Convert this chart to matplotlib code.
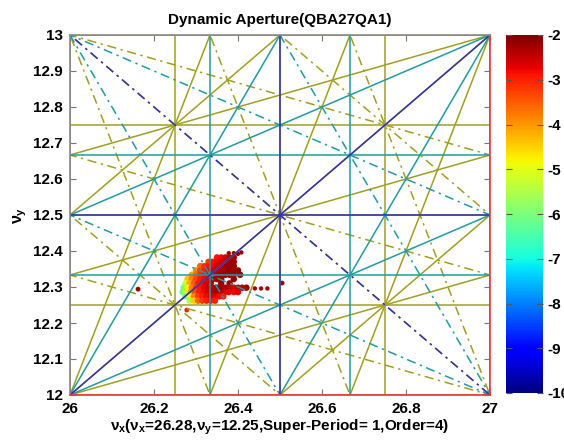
import matplotlib
matplotlib.use("Agg")
import matplotlib.pyplot as plt
import numpy as np

plt.rcParams['font.family'] = ['Liberation Sans', 'DejaVu Sans']
plt.rcParams['font.weight'] = 'bold'
plt.rcParams['mathtext.fontset'] = 'custom'
plt.rcParams['mathtext.rm'] = 'Liberation Sans:bold'
plt.rcParams['mathtext.it'] = 'Liberation Sans:bold'
plt.rcParams['mathtext.bf'] = 'Liberation Sans:bold'

# ---- resonance lines  m*nux + n*nuy = p ----
order1_lines = [(1, 0, 26), (1, 0, 27), (0, 1, 12), (0, 1, 13)]
order2_lines = [(2, 0, 53), (0, 2, 25), (1, 1, 39), (1, -1, 14)]
order3_lines = [(3, 0, 79), (3, 0, 80), (0, 3, 37), (0, 3, 38),
                (2, 1, 65), (2, 1, 66), (2, -1, 40), (2, -1, 41),
                (1, 2, 51), (1, 2, 52), (1, -2, 1), (1, -2, 2)]
order4_lines = [(4, 0, 105), (4, 0, 106), (4, 0, 107),
                (0, 4, 49), (0, 4, 50), (0, 4, 51),
                (3, 1, 91), (3, 1, 92), (3, 1, 93),
                (3, -1, 66), (3, -1, 67), (3, -1, 68),
                (1, 3, 63), (1, 3, 64), (1, 3, 65),
                (1, -3, -12), (1, -3, -11), (1, -3, -10),
                (2, 2, 77), (2, 2, 78), (2, 2, 79),
                (2, -2, 27), (2, -2, 28), (2, -2, 29)]

# ---- tracked particles (tune footprint) ----
blob_x = [26.378, 26.390, 26.400, 26.408,
          26.350, 26.360, 26.370, 26.380, 26.390,
          26.330, 26.340, 26.350, 26.360, 26.370, 26.380, 26.390,
          26.310, 26.320, 26.330, 26.340, 26.350, 26.360, 26.370, 26.380, 26.390,
          26.300, 26.310, 26.320, 26.330, 26.340, 26.350, 26.360, 26.370, 26.380, 26.390, 26.400,
          26.290, 26.300, 26.310, 26.320, 26.330, 26.340, 26.350, 26.360, 26.370, 26.380, 26.390, 26.405,
          26.280, 26.290, 26.300, 26.310, 26.320, 26.330, 26.340, 26.350, 26.360, 26.390,
          26.275, 26.285, 26.295, 26.305, 26.315, 26.325, 26.335, 26.360, 26.380,
          26.270, 26.280, 26.290, 26.300, 26.310, 26.320, 26.330, 26.340, 26.350, 26.360, 26.370, 26.380, 26.390, 26.400, 26.410, 26.420,
          26.440, 26.455, 26.470,
          26.268, 26.278, 26.288, 26.298, 26.308, 26.318, 26.328, 26.338, 26.348, 26.358, 26.368, 26.378, 26.390, 26.400,
          26.275, 26.285, 26.295, 26.305, 26.315, 26.325, 26.335, 26.345, 26.355, 26.365,
          26.285, 26.295, 26.305, 26.315, 26.325, 26.335, 26.345,
          26.162, 26.278, 26.505]
blob_y = [12.394, 12.394, 12.392, 12.396,
          12.382, 12.382, 12.382, 12.382, 12.382,
          12.370, 12.370, 12.370, 12.370, 12.370, 12.370, 12.370,
          12.358, 12.358, 12.358, 12.358, 12.358, 12.358, 12.358, 12.358, 12.358,
          12.346, 12.346, 12.346, 12.346, 12.346, 12.346, 12.346, 12.346, 12.346, 12.346, 12.346,
          12.334, 12.334, 12.334, 12.334, 12.334, 12.334, 12.334, 12.334, 12.334, 12.334, 12.334, 12.334,
          12.322, 12.322, 12.322, 12.322, 12.322, 12.322, 12.322, 12.322, 12.322, 12.322,
          12.310, 12.310, 12.310, 12.310, 12.310, 12.310, 12.310, 12.310, 12.310,
          12.298, 12.298, 12.298, 12.298, 12.298, 12.298, 12.298, 12.298, 12.298, 12.298, 12.298, 12.298, 12.298, 12.298, 12.298, 12.298,
          12.296, 12.296, 12.296,
          12.286, 12.286, 12.286, 12.286, 12.286, 12.286, 12.286, 12.286, 12.286, 12.286, 12.286, 12.286, 12.286, 12.286,
          12.274, 12.274, 12.274, 12.274, 12.274, 12.274, 12.274, 12.274, 12.274, 12.274,
          12.262, 12.262, 12.262, 12.262, 12.262, 12.262, 12.262,
          12.294, 12.236, 12.311]
blob_c = [-2.2, -2.2, -2.2, -2.2,
          -2.9, -2.8, -2.6, -2.4, -2.3,
          -3.2, -2.9, -2.8, -2.6, -2.5, -2.3, -2.2,
          -3.6, -3.1, -2.9, -2.8, -2.6, -2.5, -2.3, -2.2, -2.2,
          -3.9, -3.3, -3.0, -2.8, -2.6, -2.5, -2.4, -2.3, -2.2, -2.2, -2.2,
          -4.1, -3.6, -3.1, -2.9, -2.7, -2.5, -2.4, -2.3, -2.2, -2.2, -2.2, -2.2,
          -4.4, -3.8, -3.3, -3.0, -2.8, -2.6, -2.4, -2.3, -2.2, -2.2,
          -5.2, -4.2, -3.5, -3.0, -2.8, -2.6, -2.4, -2.2, -2.2,
          -6.0, -4.8, -3.8, -3.2, -2.9, -2.7, -2.5, -2.4, -2.3, -2.2, -2.3, -2.4, -2.6, -2.5, -2.4, -2.3,
          -2.3, -2.3, -2.3,
          -6.0, -5.0, -3.9, -3.3, -3.0, -2.8, -2.6, -2.4, -2.3, -2.3, -2.5, -2.7, -2.8, -2.7,
          -6.2, -4.8, -3.8, -3.3, -3.0, -2.8, -2.6, -2.6, -2.8, -3.0,
          -5.5, -4.5, -3.6, -3.2, -3.0, -2.9, -3.0,
          -2.2, -3.0, -2.3]

x_ticks = [26, 26.2, 26.4, 26.6, 26.8, 27]
x_ticklabels = ['26', '26.2', '26.4', '26.6', '26.8', '27']
y_ticks = [12, 12.1, 12.2, 12.3, 12.4, 12.5, 12.6, 12.7, 12.8, 12.9, 13]
y_ticklabels = ['12', '12.1', '12.2', '12.3', '12.4', '12.5', '12.6', '12.7', '12.8', '12.9', '13']
cbar_ticks = [-10, -9, -8, -7, -6, -5, -4, -3, -2]
cbar_ticklabels = ['-10', '-9', '-8', '-7', '-6', '-5', '-4', '-3', '-2']

title = 'Dynamic Aperture(QBA27QA1)'
xlabel = r'$ν_x$(ν$_x$=26.28,ν$_y$=12.25,Super-Period= 1,Order=4)'
ylabel = r'$ν_y$'

colors = {1: '#e23c3c', 2: '#3030b8', 3: '#1f9ca2', 4: '#a0a01e'}

# marker sizes: small isolated dots at the top and the tail, larger in the dense core
blob_s = [10] * 4 + [22] * 79 + [10] * 3 + [22] * 31 + [12] * 3

fig = plt.figure(figsize=(5.64, 4.43), dpi=100)
ax = fig.add_axes([70/564, 48/443, 420/564, 360/443])
cax = fig.add_axes([506/564, 50/443, 37/564, 358/443])

sc = ax.scatter(blob_x, blob_y, c=blob_c, cmap='jet', vmin=-10, vmax=-2,
                s=blob_s, marker='o', linewidths=0, zorder=1)

xs = np.array([25.9, 27.1])

def draw(lines, order):
    for (m, n, p) in lines:
        ls = '-.' if (m > 0 and n > 0) else '-'
        kw = dict(color=colors[order], lw=1.1, zorder=2 + (5 - order))
        if n == 0:
            ln, = ax.plot([p / m, p / m], [11.9, 13.1], ls, **kw)
        else:
            ln, = ax.plot(xs, (p - m * xs) / n, ls, **kw)
        if ls == '-.':
            ln.set_dashes([6, 3, 1.5, 3])

draw(order4_lines, 4)
draw(order3_lines, 3)
draw(order2_lines, 2)
draw(order1_lines, 1)

ax.set_xlim(26, 27)
ax.set_ylim(12, 13)
ax.set_xticks(x_ticks)
ax.set_xticklabels(x_ticklabels)
ax.set_yticks(y_ticks)
ax.set_yticklabels(y_ticklabels)
ax.tick_params(direction='in', length=4, width=0.8, color='#777777',
               top=True, right=True, labelsize=11, pad=5)
for lab in ax.get_xticklabels() + ax.get_yticklabels():
    lab.set_fontweight('bold')
ax.spines['left'].set_color('#8a8a8a')
ax.spines['top'].set_color('#8a8a8a')
ax.spines['right'].set_color('#e23c3c')
ax.spines['bottom'].set_color('#e23c3c')
for s in ax.spines.values():
    s.set_linewidth(1.2)
    s.set_zorder(10)

ax.set_title(title, fontsize=11, fontweight='bold', pad=8)
ax.set_xlabel(xlabel, fontsize=11, fontweight='bold', labelpad=1)
ax.set_ylabel(ylabel, fontsize=11.5, fontweight='bold', labelpad=3)

cb = fig.colorbar(sc, cax=cax, ticks=cbar_ticks)
cb.ax.set_yticklabels(cbar_ticklabels)
cb.outline.set_visible(False)
cax.tick_params(direction='in', length=4, width=0.8, color='#555555',
                left=True, right=True, labelsize=11, pad=3)
for lab in cax.get_yticklabels():
    lab.set_fontweight('bold')

fig.savefig('out.png', dpi=100)
